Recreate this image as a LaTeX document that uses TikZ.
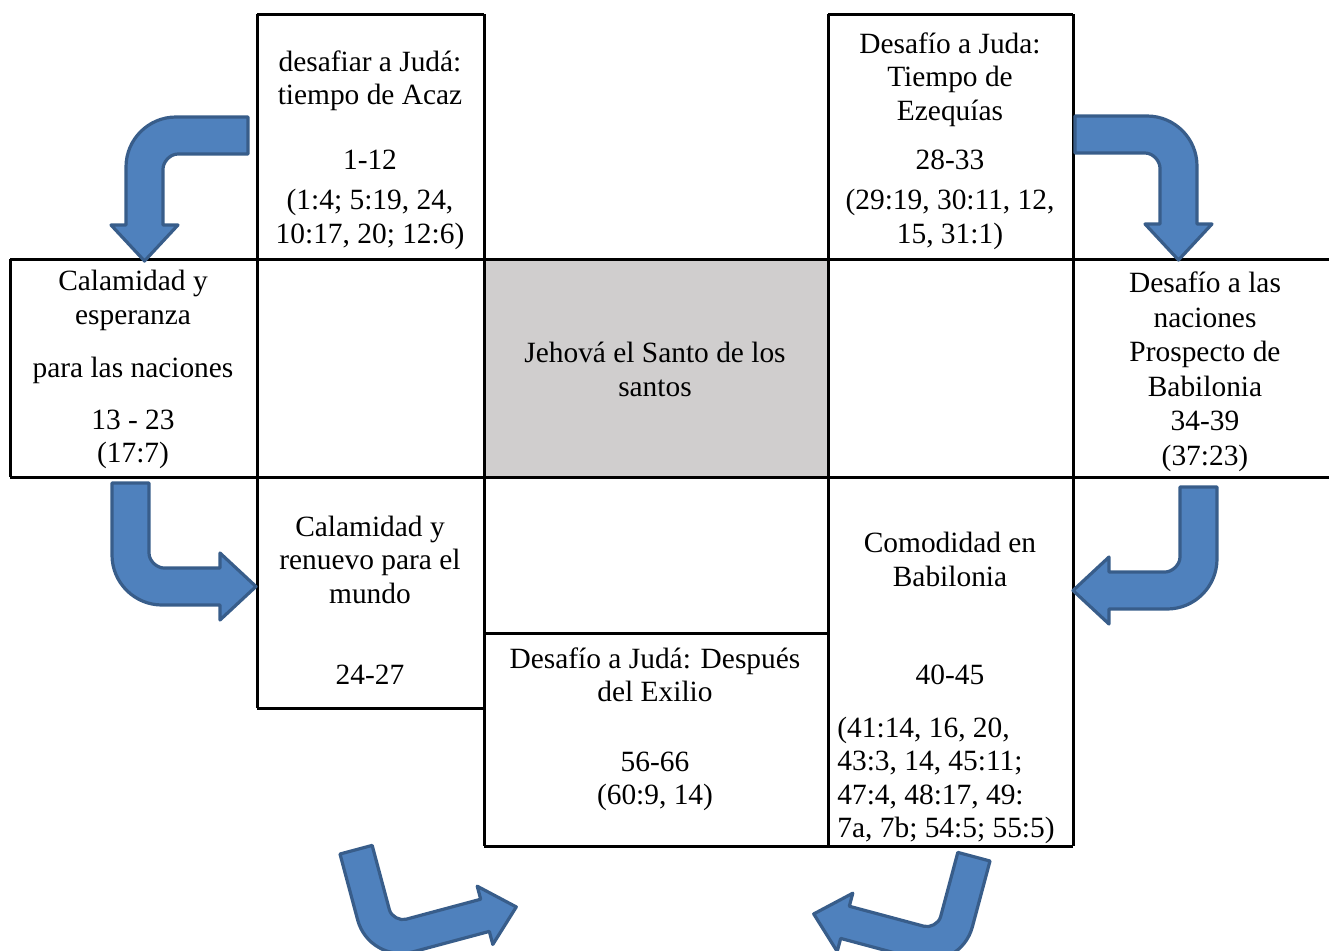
\documentclass[tikz,border=0pt]{standalone}
\usepackage{fontspec}
\setmainfont{Liberation Serif}
\definecolor{arrowfill}{HTML}{4F81BD}
\definecolor{arrowline}{HTML}{385D8A}
\definecolor{centergray}{HTML}{D0CECE}
\tikzset{
  gridline/.style={line width=1.5pt, black},
  bluearrow/.style={fill=arrowfill, draw=arrowline, line width=1.6pt, line join=round},
  txt/.style={font=\fontsize{14.7}{16.75}\selectfont, align=center, inner sep=0pt, yshift=-1.3pt},
}
\newcommand\bentarrow[3]{%
  \draw[bluearrow,#1] (0,0) -- (37,0) -- (37,#2-15)
    .. controls (37,#2-6.7) and (45.3,#2) .. (52,#2) -- (#3,#2) -- (#3,#2-15)
    -- (#3+36,#2+18.5) -- (#3,#2+52) -- (#3,#2+37) -- (50,#2+37)
    .. controls (22.4,#2+37) and (0,#2+14.6) .. (0,#2-13) -- cycle;}
\begin{document}
\begin{tikzpicture}[x=0.5pt,y=-0.5pt]
\useasboundingbox (0,0) rectangle (1329,950);
\clip (0,0) rectangle (1329,950);
% centre grey cell
\fill[centergray] (484,259) rectangle (828,477);
% grid
\draw[gridline] (257,14) -- (484,14);
\draw[gridline] (828,14) -- (1073,14);
\draw[gridline] (10,259) -- (1329,259);
\draw[gridline] (10,477) -- (1329,477);
\draw[gridline] (484,633) -- (828,633);
\draw[gridline] (257,708) -- (484,708);
\draw[gridline] (484,846) -- (1073,846);
\draw[gridline] (10,259) -- (10,477);
\draw[gridline] (257,14) -- (257,708);
\draw[gridline] (484,14) -- (484,846);
\draw[gridline] (828,14) -- (828,846);
\draw[gridline] (1073,14) -- (1073,846);
% texts
\node[txt] (tl1) at (370,78) {desafiar a Judá:\\tiempo de Acaz};
\node[txt] (tl2) at (370,157) {1-12};
\node[txt] (tl3) at (370,217) {(1:4; 5:19, 24,\\10:17, 20; 12:6)};
\node[txt] (tr1) at (950,77) {Desafío a Juda:\\Tiempo de\\Ezequías};
\node[txt] (tr2) at (950,157) {28-33};
\node[txt] (tr3) at (950,217) {(29:19, 30:11, 12,\\15, 31:1)};
\node[txt] (lm1) at (133,298) {Calamidad y\\esperanza};
\node[txt] (lm2) at (133,368) {para las naciones};
\node[txt] (lm3) at (133,437) {13 - 23\\(17:7)};
\node[txt] (cc) at (655,367) {Jehová el Santo de los\\santos};
\node[txt] (rm) at (1205,369) {Desafío a las\\[0.5pt]naciones\\[0.5pt]Prospecto de\\[0.5pt]Babilonia\\[0.5pt]34-39\\[0.5pt](37:23)};
\node[txt] (lb1) at (370,557) {Calamidad y\\renuevo para el\\mundo};
\node[txt] (lb2) at (370,672) {24-27};
\node[txt] (cb1) at (655,672) {Desafío a Judá: Después\\del Exilio};
\node[txt] (cb2) at (655,779) {56-66\\(60:9, 14)};
\node[txt] (rb1) at (950,557) {Comodidad en\\Babilonia};
\node[txt] (rb2) at (950,672) {40-45};
\node[txt, align=left, anchor=west] (rb3) at (837,778) {(41:14, 16, 20,\\43:3, 14, 45:11;\\47:4, 48:17, 49:\\7a, 7b; 54:5; 55:5)};
% bent arrows
\bentarrow{shift={(248,117)},rotate=-90}{85}{108}
\bentarrow{shift={(1075,116)},rotate=-90,yscale=-1}{85}{108}
\bentarrow{shift={(112,483)}}{85}{108}
\bentarrow{shift={(1217,487)},xscale=-1}{85}{108}
\bentarrow{shift={(340,854)},rotate=15,scale=0.9}{89}{138}
\bentarrow{shift={(990,861)},rotate=-15,xscale=-1,scale=0.9}{89}{138}
\end{tikzpicture}
\end{document}
